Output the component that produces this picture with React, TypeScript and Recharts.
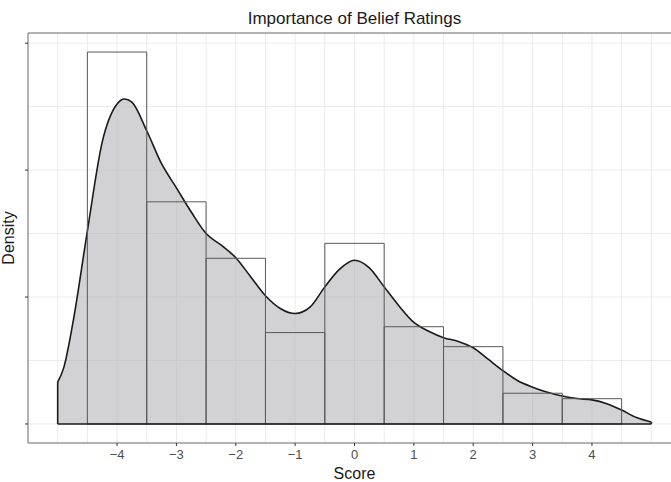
import React from "react";
import {
  ComposedChart,
  Area,
  XAxis,
  YAxis,
  CartesianGrid,
  ReferenceArea,
  ReferenceLine,
} from "recharts";

// Histogram bins (width 1, centred on integer scores)
const binLefts = [-4.5, -3.5, -2.5, -1.5, -0.5, 0.5, 1.5, 2.5, 3.5];
const binRights = [-3.5, -2.5, -1.5, -0.5, 0.5, 1.5, 2.5, 3.5, 4.5];
const binDensity = [0.293, 0.175, 0.1305, 0.072, 0.1423, 0.0766, 0.0609, 0.0242, 0.0199];

// Kernel density estimate
const densX = [
  -5.0, -4.9, -4.75, -4.5, -4.25, -4.0, -3.875, -3.75, -3.5, -3.25, -3.0, -2.75, -2.5,
  -2.25, -2.0, -1.75, -1.5, -1.25, -1.0, -0.75, -0.5, -0.25, 0.0, 0.25, 0.5, 0.75, 1.0,
  1.25, 1.5, 1.75, 2.0, 2.25, 2.5, 2.75, 3.0, 3.25, 3.5, 3.75, 4.0, 4.25, 4.5, 4.75, 5.0,
];
const densY = [
  0.033, 0.044, 0.078, 0.152, 0.222, 0.252, 0.256, 0.2535, 0.231, 0.205, 0.186, 0.167, 0.15,
  0.141, 0.131, 0.116, 0.101, 0.091, 0.087, 0.092, 0.108, 0.122, 0.129, 0.123, 0.108, 0.093,
  0.08, 0.073, 0.068, 0.065, 0.06, 0.051, 0.042, 0.034, 0.029, 0.025, 0.022, 0.02, 0.019,
  0.016, 0.011, 0.005, 0.0015,
];

const xTicks = [-4, -3, -2, -1, 0, 1, 2, 3, 4];
const yTicks = [0, 0.1, 0.2, 0.3];
const gridX = [-5, -4.5, -4, -3.5, -3, -2.5, -2, -1.5, -1, -0.5, 0, 0.5, 1, 1.5, 2, 2.5, 3, 3.5, 4, 4.5, 5, 5.5];
const gridY = [0, 0.05, 0.1, 0.15, 0.2, 0.25, 0.3];

const title = "Importance of Belief Ratings";
const xTitle = "Score";
const yTitle = "Density";

const X_DOMAIN: [number, number] = [-5.5, 5.5];
const Y_DOMAIN: [number, number] = [-0.015, 0.308];

const data = densX.map((x, i) => ({ x, d: densY[i] }));

const FONT = '"Liberation Sans", Arial, Helvetica, sans-serif';

export default function App() {
  return (
    <div
      style={{
        position: "absolute",
        left: 0,
        top: 0,
        width: 671,
        height: 482,
        overflow: "hidden",
        background: "#ffffff",
        fontFamily: FONT,
      }}
    >
      <ComposedChart
        width={690}
        height={482}
        data={data}
        margin={{ top: 33, right: 9, left: 0, bottom: 0 }}
      >
        <CartesianGrid
          stroke="#ebebeb"
          strokeWidth={1}
          verticalValues={gridX}
          horizontalValues={gridY}
        />
        <XAxis
          dataKey="x"
          type="number"
          domain={X_DOMAIN}
          allowDataOverflow
          ticks={xTicks}
          interval={0}
          height={39}
          tickSize={3}
          tickMargin={4}
          axisLine={{ stroke: "#666666", strokeWidth: 1 }}
          tickLine={{ stroke: "#333333", strokeWidth: 1 }}
          tick={{ fill: "#4d4d4d", fontSize: 13, fontFamily: FONT }}
          tickFormatter={(v: number) => String(v).replace("-", "\u2212")}
        />
        <YAxis
          type="number"
          domain={Y_DOMAIN}
          allowDataOverflow
          ticks={yTicks}
          interval={0}
          width={28}
          tickSize={3}
          axisLine={{ stroke: "#666666", strokeWidth: 1 }}
          tickLine={{ stroke: "#333333", strokeWidth: 1 }}
          tickFormatter={() => ""}
        />
        <ReferenceLine y={Y_DOMAIN[1]} stroke="#666666" strokeWidth={1} />
        <Area
          dataKey="d"
          type="monotone"
          baseValue={0}
          stroke="#1a1a1a"
          strokeWidth={1.6}
          fill="#b4b4b8"
          fillOpacity={0.6}
          isAnimationActive={false}
          dot={false}
          activeDot={false}
        />
        <ReferenceLine
          segment={[
            { x: densX[0], y: 0 },
            { x: densX[densX.length - 1], y: 0 },
          ]}
          stroke="#1a1a1a"
          strokeWidth={1.6}
        />
        <ReferenceLine
          segment={[
            { x: densX[0], y: 0 },
            { x: densX[0], y: densY[0] },
          ]}
          stroke="#1a1a1a"
          strokeWidth={1.6}
        />
        <ReferenceLine
          segment={[
            { x: densX[densX.length - 1], y: 0 },
            { x: densX[densX.length - 1], y: densY[densY.length - 1] },
          ]}
          stroke="#1a1a1a"
          strokeWidth={1.6}
        />
        {binLefts.map((l, i) => (
          <ReferenceArea
            key={i}
            x1={l}
            x2={binRights[i]}
            y1={0}
            y2={binDensity[i]}
            fill="none"
            fillOpacity={0}
            stroke="#595959"
            strokeWidth={1}
            strokeOpacity={1}
          />
        ))}
      </ComposedChart>
      <svg
        width={671}
        height={482}
        style={{ position: "absolute", left: 0, top: 0, pointerEvents: "none" }}
      >
        <text x={354.5} y={24} textAnchor="middle" fontSize={17} fill="#1a1a1a" fontFamily={FONT}>
          {title}
        </text>
        <text x={354.5} y={478.5} textAnchor="middle" fontSize={16} fill="#1a1a1a" fontFamily={FONT}>
          {xTitle}
        </text>
        <text
          x={14}
          y={238}
          textAnchor="middle"
          fontSize={16}
          fill="#1a1a1a"
          fontFamily={FONT}
          transform="rotate(-90 14 238)"
        >
          {yTitle}
        </text>
      </svg>
    </div>
  );
}
